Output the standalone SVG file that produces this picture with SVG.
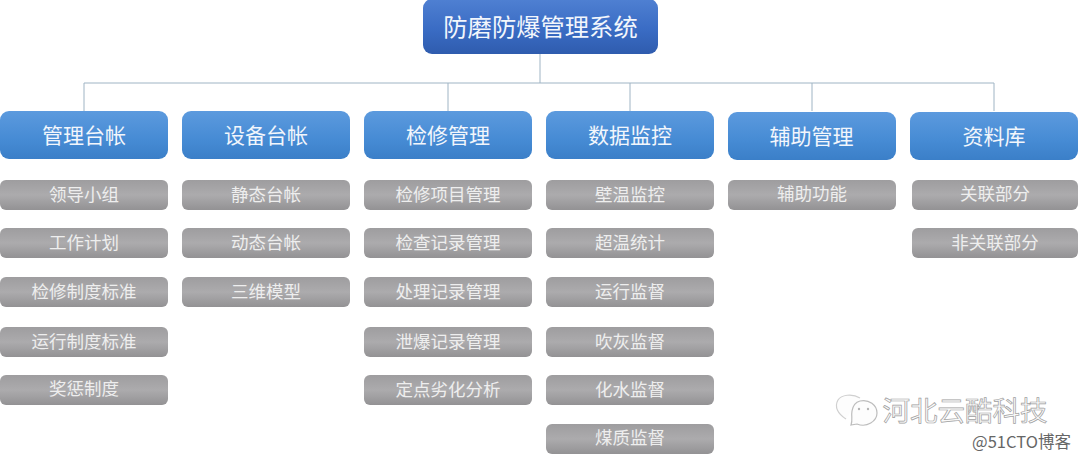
<svg xmlns="http://www.w3.org/2000/svg" width="1080" height="459" viewBox="0 0 1080 459">
<defs>
<linearGradient id="gRoot" x1="0" y1="0" x2="0" y2="1"><stop offset="0" stop-color="#4f80d2"/><stop offset="0.55" stop-color="#3a6cc4"/><stop offset="1" stop-color="#2f5cae"/></linearGradient>
<linearGradient id="gBlue" x1="0" y1="0" x2="0" y2="1"><stop offset="0" stop-color="#5c9ade"/><stop offset="0.6" stop-color="#468bd4"/><stop offset="1" stop-color="#3b7fc8"/></linearGradient>
<linearGradient id="gGray" x1="0" y1="0" x2="0" y2="1"><stop offset="0" stop-color="#9e9d9f"/><stop offset="0.5" stop-color="#acabad"/><stop offset="1" stop-color="#939294"/></linearGradient>
</defs>
<style>
text{font-family:"Noto Sans CJK SC","Liberation Sans",sans-serif;text-anchor:middle}
.root rect{fill:url(#gRoot)}
.blue rect{fill:url(#gBlue)}
.gray rect{fill:url(#gGray)}
.root text{fill:#f2f6fc;font-size:24.3px}
.blue text{fill:#f2f6fc;font-size:21px}
.gray text{fill:#eeeeee;font-size:17.5px}
.conn{fill:none;stroke:#9fb4c4;stroke-width:1}
.wm{fill:#fafafa;stroke:#a0a0a0;stroke-width:.7}
</style>
<rect width="1080" height="459" fill="#ffffff"/>
<g id="connectors" class="conn">
<path d="M540 54V83M84 111V83H994V111M448 83V111M630 83V111M812 83V111"/>
</g>
<g id="root" class="root"><rect x="423" y="-1" width="235" height="55" rx="9"/><text x="540.500" y="35.500">防磨防爆管理系统</text></g>
<g id="cat1" class="blue"><rect x="0" y="111" width="168" height="48" rx="9"/><text x="84" y="143">管理台帐</text></g>
<g id="cat2" class="blue"><rect x="182" y="111" width="168" height="48" rx="9"/><text x="266" y="143">设备台帐</text></g>
<g id="cat3" class="blue"><rect x="364" y="111" width="168" height="48" rx="9"/><text x="448" y="143">检修管理</text></g>
<g id="cat4" class="blue"><rect x="546" y="111" width="168" height="48" rx="9"/><text x="630" y="143">数据监控</text></g>
<g id="cat5" class="blue"><rect x="728" y="112" width="168" height="48" rx="9"/><text x="811.500" y="144">辅助管理</text></g>
<g id="cat6" class="blue"><rect x="910" y="112" width="168" height="48" rx="9"/><text x="994" y="144">资料库</text></g>

<g id="a1" class="gray"><rect x="0" y="180" width="168" height="30" rx="6"/><text x="84" y="201">领导小组</text></g>
<g id="a2" class="gray"><rect x="0" y="228" width="168" height="30" rx="6"/><text x="84" y="249">工作计划</text></g>
<g id="a3" class="gray"><rect x="0" y="277" width="168" height="30" rx="6"/><text x="84" y="298">检修制度标准</text></g>
<g id="a4" class="gray"><rect x="0" y="327" width="168" height="30" rx="6"/><text x="84" y="348">运行制度标准</text></g>
<g id="a5" class="gray"><rect x="0" y="375" width="168" height="30" rx="6"/><text x="84" y="395">奖惩制度</text></g>

<g id="b1" class="gray"><rect x="182" y="180" width="168" height="30" rx="6"/><text x="266" y="201">静态台帐</text></g>
<g id="b2" class="gray"><rect x="182" y="228" width="168" height="30" rx="6"/><text x="266" y="249">动态台帐</text></g>
<g id="b3" class="gray"><rect x="182" y="277" width="168" height="30" rx="6"/><text x="266" y="298">三维模型</text></g>

<g id="c1" class="gray"><rect x="364" y="180" width="168" height="30" rx="6"/><text x="448" y="201">检修项目管理</text></g>
<g id="c2" class="gray"><rect x="364" y="228" width="168" height="30" rx="6"/><text x="448" y="249">检查记录管理</text></g>
<g id="c3" class="gray"><rect x="364" y="277" width="168" height="30" rx="6"/><text x="448" y="298">处理记录管理</text></g>
<g id="c4" class="gray"><rect x="364" y="327" width="168" height="30" rx="6"/><text x="448" y="348">泄爆记录管理</text></g>
<g id="c5" class="gray"><rect x="364" y="375" width="168" height="30" rx="6"/><text x="448" y="396">定点劣化分析</text></g>

<g id="d1" class="gray"><rect x="546" y="180" width="168" height="30" rx="6"/><text x="630" y="201">壁温监控</text></g>
<g id="d2" class="gray"><rect x="546" y="228" width="168" height="30" rx="6"/><text x="630" y="249">超温统计</text></g>
<g id="d3" class="gray"><rect x="546" y="277" width="168" height="30" rx="6"/><text x="630" y="298">运行监督</text></g>
<g id="d4" class="gray"><rect x="546" y="327" width="168" height="30" rx="6"/><text x="630" y="348">吹灰监督</text></g>
<g id="d5" class="gray"><rect x="546" y="375" width="168" height="30" rx="6"/><text x="630" y="396">化水监督</text></g>
<g id="d6" class="gray"><rect x="546" y="424" width="168" height="30" rx="6"/><text x="630" y="444">煤质监督</text></g>

<g id="e1" class="gray"><rect x="728" y="180" width="168" height="30" rx="6"/><text x="812" y="200">辅助功能</text></g>
<g id="f1" class="gray"><rect x="912" y="180" width="166" height="30" rx="6"/><text x="995" y="200">关联部分</text></g>
<g id="f2" class="gray"><rect x="912" y="228" width="166" height="30" rx="6"/><text x="995" y="249">非关联部分</text></g>

<g id="watermark">
<path d="M846 419C838 414 834 407 838 400C841 395 852 393 860 398" fill="#fdfdfd" stroke="#d0d0d0" stroke-width="1.2"/>
<path d="M860 401C869 399 877 405 877 413C877 421 867 428 857 424L851 425C853 420 851 416 852 411C853 405 856 402 860 401Z" fill="#fdfdfd" stroke="#bdbdbd" stroke-width="1.2"/>
<circle cx="859" cy="409" r="1.200" fill="#b5b5b5"/><circle cx="868" cy="409" r="1.200" fill="#b5b5b5"/>
<text class="wm" x="965" y="421" style="font-size:27.500px">河北云酷科技</text>
<text x="1021.500" y="448" style="font-size:16.500px;fill:#666">@51CTO博客</text>
</g>
</svg>
